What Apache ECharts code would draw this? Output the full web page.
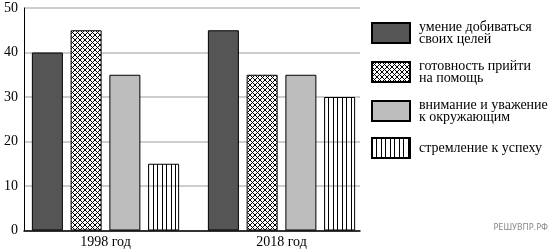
<!DOCTYPE html>
<html><head><meta charset="utf-8">
<script src="https://cdn.jsdelivr.net/npm/echarts@6/dist/echarts.min.js"></script>
<style>html,body{margin:0;padding:0;background:#fff}#c{width:550px;height:251px}</style>
</head><body><div id="c"></div>
<script>
const categories = ['1998 год', '2018 год'];
const seriesNames = ['умение добиваться своих целей', 'готовность прийти на помощь', 'внимание и уважение к окружающим', 'стремление к успеху'];
const legendLabels = ['умение добиваться\nсвоих целей', 'готовность прийти\nна помощь', 'внимание и уважение\nк окружающим', 'стремление к успеху'];
const valuesGoals = [40, 45];
const valuesHelp = [45, 35];
const valuesRespect = [35, 35];
const valuesSuccess = [15, 30];

function crossPattern() {
  const c = document.createElement('canvas'); c.width = 5; c.height = 5;
  const g = c.getContext('2d');
  g.fillStyle = '#fff'; g.fillRect(0, 0, 5, 5);
  g.strokeStyle = '#000'; g.lineWidth = 1;
  g.beginPath();
  g.moveTo(-1, -1); g.lineTo(6, 6);
  g.moveTo(6, -1); g.lineTo(-1, 6);
  g.stroke();
  return c;
}
function stripePattern() {
  const c = document.createElement('canvas'); c.width = 9; c.height = 4;
  const g = c.getContext('2d');
  g.fillStyle = '#000';
  g.fillRect(0, 0, 1, 4);
  g.fillRect(4, 0, 1, 4);
  return c;
}

const fills = [
  '#555555',
  { image: crossPattern(), repeat: 'repeat' },
  '#bdbdbd',
  { image: stripePattern(), repeat: 'repeat' }
];
const allValues = [valuesGoals, valuesHelp, valuesRespect, valuesSuccess];
const FONT = "'Liberation Serif', 'Times New Roman', serif";

const chart = echarts.init(document.getElementById('c'), null, { renderer: 'canvas' });
chart.setOption({
  animation: false,
  backgroundColor: '#fff',
  grid: { left: 24, right: 190, top: 8, bottom: 20.5 },
  xAxis: {
    type: 'value', min: -0.463, max: 1.446,
    axisLine: { show: true, onZero: false, lineStyle: { color: '#000', width: 1.5 } },
    axisTick: { show: false },
    splitLine: { show: false },
    axisLabel: {
      customValues: [0, 1],
      formatter: v => categories[Math.round(v)] || '',
      fontFamily: FONT, fontSize: 14, color: '#000', margin: 5
    }
  },
  yAxis: {
    type: 'value', min: 0, max: 50, interval: 10,
    axisLine: { show: true, onZero: false, lineStyle: { color: '#000', width: 1 } },
    axisTick: { show: false },
    splitLine: { show: true, lineStyle: { color: '#bdbdbd', width: 1.5 } },
    axisLabel: {
      fontFamily: FONT, fontSize: 14, color: '#000', margin: 6
    }
  },
  legend: {
    orient: 'vertical', left: 371, top: 20, padding: 0,
    itemWidth: 38, itemHeight: 20, itemGap: 13,
    icon: 'rect', selectedMode: false,
    formatter: name => legendLabels[seriesNames.indexOf(name)],
    textStyle: { fontFamily: FONT, fontSize: 14, lineHeight: 12, color: '#000', padding: [0, 0, 0, 4] },
    data: seriesNames
  },
  graphic: [{
    type: 'text', right: 2, top: 223,
    style: { text: 'РЕШУВПР.РФ', fontFamily: 'DejaVu Sans Condensed, DejaVu Sans', fontSize: 9, fill: '#8a8a8a' }
  }],
  series: seriesNames.map((name, si) => ({
    name: name,
    type: 'bar',
    barWidth: 31,
    barGap: '25%',
    itemStyle: { color: fills[si], borderColor: '#000', borderWidth: 1 },
    data: categories.map((c, i) => [i, allValues[si][i]])
  }))
});
</script></body></html>
